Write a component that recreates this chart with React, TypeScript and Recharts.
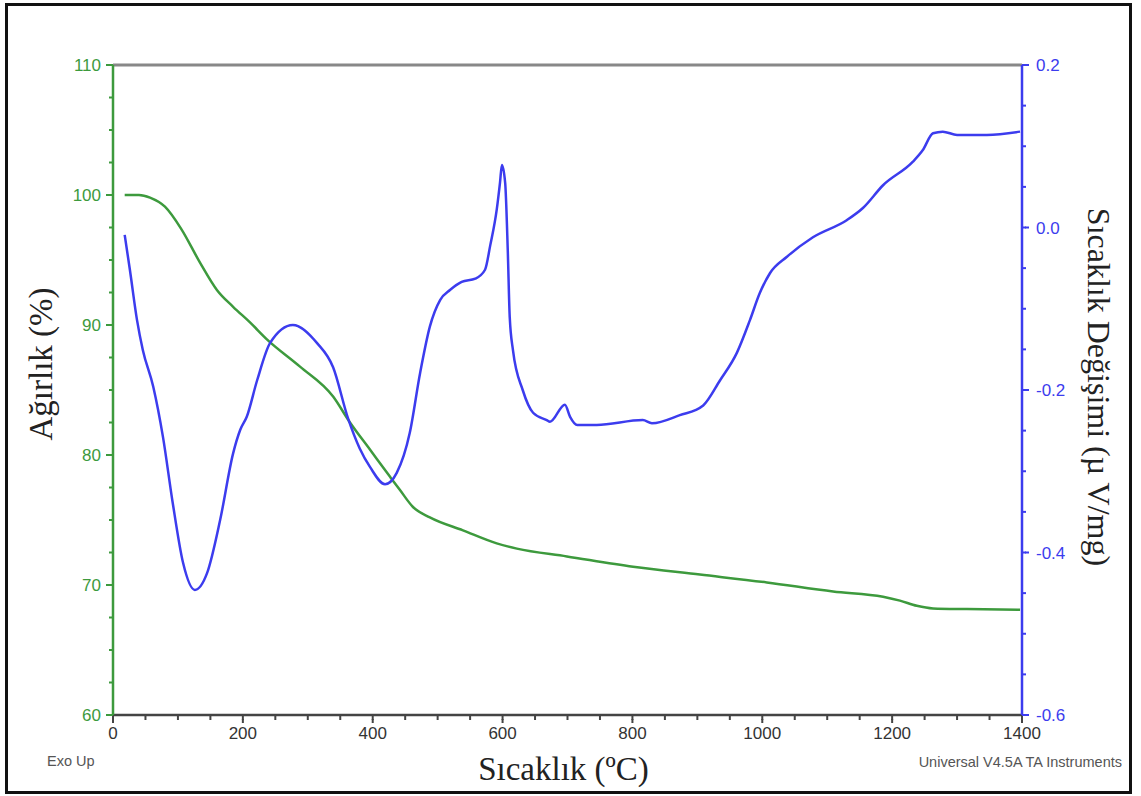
import { LineChart, Line, XAxis, YAxis, ReferenceLine } from "recharts"

// TGA: mass (%) against temperature
const weightTemp = [18, 40, 57, 80, 105, 134, 160, 185, 211, 237, 288, 339, 365, 396, 427, 442, 462, 488, 539, 591, 622, 699, 801, 904, 1007, 1109, 1186, 1212, 1238, 1263, 1315, 1397]
const weightPct = [100.0, 100.0, 99.8, 99.1, 97.4, 94.8, 92.7, 91.4, 90.2, 88.9, 86.8, 84.5, 82.5, 80.4, 78.3, 77.3, 76.0, 75.2, 74.2, 73.2, 72.8, 72.2, 71.4, 70.8, 70.2, 69.5, 69.1, 68.8, 68.4, 68.2, 68.15, 68.1]

// DTA: heat flow signal (µV/mg) against temperature
const dtaTemp = [18, 26, 37, 46, 62, 77, 92, 108, 126, 145, 165, 185, 196, 206, 222, 242, 277, 314, 339, 362, 380, 396, 419, 437, 457, 473, 488, 504, 519, 537, 558, 573, 581, 591, 596, 599, 604, 608, 611, 616, 631, 647, 668, 673, 696, 704, 715, 745, 816, 830, 873, 909, 935, 961, 981, 996, 1012, 1038, 1078, 1130, 1155, 1186, 1232, 1247, 1263, 1278, 1300, 1346, 1397]
const dtaSignal = [-0.009, -0.052, -0.114, -0.151, -0.196, -0.258, -0.339, -0.413, -0.446, -0.425, -0.36, -0.278, -0.249, -0.233, -0.188, -0.142, -0.12, -0.142, -0.172, -0.235, -0.272, -0.295, -0.316, -0.302, -0.253, -0.179, -0.122, -0.089, -0.077, -0.067, -0.063, -0.052, -0.022, 0.022, 0.055, 0.077, 0.055, -0.028, -0.11, -0.151, -0.2, -0.228, -0.237, -0.239, -0.218, -0.233, -0.243, -0.243, -0.237, -0.241, -0.231, -0.219, -0.188, -0.154, -0.114, -0.081, -0.056, -0.036, -0.012, 0.009, 0.024, 0.052, 0.081, 0.095, 0.116, 0.118, 0.114, 0.114, 0.118]

const tempLabels = [0, 200, 400, 600, 800, 1000, 1200, 1400]
const weightLabels = [60, 70, 80, 90, 100, 110]
const dtaLabels = [-0.6, -0.4, -0.2, 0.0, 0.2]

// minor ticks sit between the labelled ones
const tempTicks = Array.from({ length: 29 }, (_, i) => i * 50)
const weightTicks = Array.from({ length: 21 }, (_, i) => 60 + i * 2.5)
const dtaTicks = Array.from({ length: 17 }, (_, i) => Math.round((-0.6 + i * 0.05) * 100) / 100)

const weightData = weightTemp.map((t, i) => ({ t, w: weightPct[i] }))
const dtaData = dtaTemp.map((t, i) => ({ t, d: dtaSignal[i] }))

const sans = "'Liberation Sans', Arial, sans-serif"
const serif = "'Liberation Serif', 'Times New Roman', serif"
const green = "#3d9a3d"
const blue = "#3c3cee"

const isMajor = (v: number, list: number[]) => list.some((m) => Math.abs(m - v) < 1e-6)

// built-in tick line draws the short (minor) mark, these add the longer mark + label
const XTick = (props: any) => {
    const { x, y, payload } = props
    const major = isMajor(payload.value, tempLabels)
    if (!major) return <g />
    return (
        <g>
            <path d={`M${x},${y - 1}V${y + 3}`} stroke="#444" strokeWidth={2} fill="none" />
            <text x={x} y={y + 19} textAnchor="middle" fontSize={17} fill="#333" fontFamily={sans}>
                {payload.value}
            </text>
        </g>
    )
}

const LeftTick = (props: any) => {
    const { x, y, payload } = props
    const major = isMajor(payload.value, weightLabels)
    if (!major) return <g />
    return (
        <g>
            <path d={`M${x + 1},${y}H${x - 3}`} stroke={green} strokeWidth={2} fill="none" />
            <text x={x - 8} y={y + 6} textAnchor="end" fontSize={17} fill={green} fontFamily={sans}>
                {payload.value}
            </text>
        </g>
    )
}

const RightTick = (props: any) => {
    const { x, y, payload } = props
    const major = isMajor(payload.value, dtaLabels)
    if (!major) return <g />
    return (
        <g>
            <path d={`M${x - 1},${y}H${x + 3}`} stroke={blue} strokeWidth={2} fill="none" />
            <text x={x + 10} y={y + 6} textAnchor="start" fontSize={17} fill={blue} fontFamily={sans}>
                {payload.value.toFixed(1)}
            </text>
        </g>
    )
}

export default function App() {
    return (
        <div style={{ position: "absolute", left: 0, top: 0, width: 1141, height: 796, background: "#fff" }}>
            <div
                style={{
                    position: "absolute",
                    left: 5,
                    top: 3,
                    width: 1127,
                    height: 791,
                    border: "3px solid #111",
                    boxSizing: "border-box",
                }}
            />
            <div style={{ position: "absolute", left: 0, top: 0 }}>
                <LineChart width={1141} height={796} margin={{ top: 65, right: 0, bottom: 0, left: 0 }}>
                    <XAxis
                        dataKey="t"
                        type="number"
                        domain={[0, 1400]}
                        ticks={tempTicks}
                        interval={0}
                        height={81}
                        tickSize={5}
                        tickMargin={0}
                        tickLine={{ stroke: "#444", strokeWidth: 2 }}
                        tick={<XTick />}
                        axisLine={{ stroke: "#444", strokeWidth: 2.5 }}
                        allowDuplicatedCategory={false}
                        label={{
                            content: (p: any) => (
                                <text
                                    x={p.viewBox.x + p.viewBox.width / 2 - 4}
                                    y={p.viewBox.y + 65}
                                    textAnchor="middle"
                                    fontSize={33}
                                    fill="#222"
                                    fontFamily={serif}
                                >
                                    Sıcaklık (ºC)
                                </text>
                            ),
                        }}
                    />
                    <YAxis
                        yAxisId="left"
                        orientation="left"
                        domain={[60, 110]}
                        ticks={weightTicks}
                        interval={0}
                        width={113}
                        tickSize={4}
                        tickMargin={0}
                        tickLine={{ stroke: green, strokeWidth: 2 }}
                        tick={<LeftTick />}
                        axisLine={{ stroke: green, strokeWidth: 2.5 }}
                        label={{
                            content: (p: any) => {
                                const cx = 52
                                const cy = p.viewBox.y + p.viewBox.height / 2 - 26
                                return (
                                    <text
                                        x={cx}
                                        y={cy}
                                        transform={`rotate(-90 ${cx} ${cy})`}
                                        textAnchor="middle"
                                        fontSize={33}
                                        fill="#222"
                                        fontFamily={serif}
                                    >
                                        Ağırlık (%)
                                    </text>
                                )
                            },
                        }}
                    />
                    <YAxis
                        yAxisId="right"
                        orientation="right"
                        domain={[-0.6, 0.2]}
                        ticks={dtaTicks}
                        interval={0}
                        width={119}
                        tickSize={4}
                        tickMargin={0}
                        tickLine={{ stroke: blue, strokeWidth: 2 }}
                        tick={<RightTick />}
                        axisLine={{ stroke: blue, strokeWidth: 2.5 }}
                        label={{
                            content: (p: any) => {
                                const cx = 1088
                                const cy = p.viewBox.y + p.viewBox.height / 2 - 3
                                return (
                                    <text
                                        x={cx}
                                        y={cy}
                                        transform={`rotate(90 ${cx} ${cy})`}
                                        textAnchor="middle"
                                        fontSize={32}
                                        fill="#222"
                                        fontFamily={serif}
                                    >
                                        Sıcaklık Değişimi  (µ V/mg)
                                    </text>
                                )
                            },
                        }}
                    />
                    <ReferenceLine yAxisId="left" y={110} stroke="#888" strokeWidth={3} />
                    <Line
                        yAxisId="left"
                        data={weightData}
                        dataKey="w"
                        type="monotone"
                        stroke={green}
                        strokeWidth={2.5}
                        dot={false}
                        isAnimationActive={false}
                    />
                    <Line
                        yAxisId="right"
                        data={dtaData}
                        dataKey="d"
                        type="monotone"
                        stroke={blue}
                        strokeWidth={2.5}
                        dot={false}
                        isAnimationActive={false}
                    />
                </LineChart>
            </div>
            <div style={{ position: "absolute", left: 47, top: 753, fontSize: 14.5, color: "#555", fontFamily: sans }}>
                Exo Up
            </div>
            <div style={{ position: "absolute", right: 19, top: 754, fontSize: 14.5, color: "#555", fontFamily: sans }}>
                Universal V4.5A TA Instruments
            </div>
        </div>
    )
}
